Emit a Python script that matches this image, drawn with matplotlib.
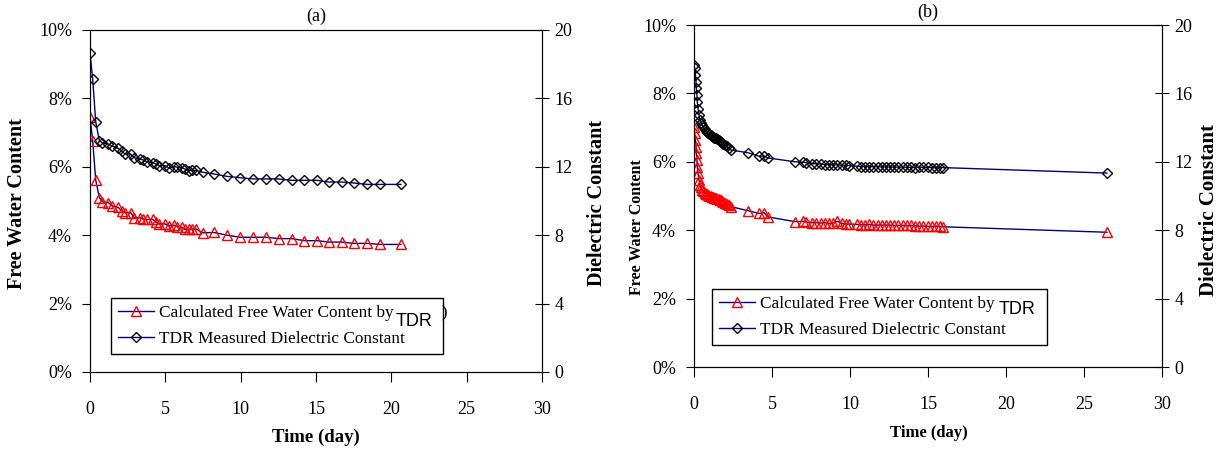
import numpy as np
import matplotlib.pyplot as plt
from matplotlib.lines import Line2D
from matplotlib.ticker import FuncFormatter

plt.rcParams['font.family'] = ['Liberation Serif', 'DejaVu Serif']

# panel (a)
days_a = [0, 0.18, 0.38, 0.62, 0.82, 1.22, 1.46, 1.88, 2.10, 2.32, 2.70, 2.94, 3.32, 3.54,
          3.76, 4.16, 4.38, 4.60, 4.98, 5.24, 5.60, 5.80, 6.08, 6.31, 6.59, 6.75, 7.04, 7.48,
          8.23, 9.09, 9.96, 10.82, 11.68, 12.52, 13.38, 14.23, 15.07, 15.84, 16.70, 17.54,
          18.41, 19.27, 20.64]
water_a = [7.47, 6.75, 5.61, 5.10, 4.98, 4.95, 4.86, 4.81, 4.72, 4.66, 4.66, 4.51, 4.51, 4.47,
           4.46, 4.46, 4.38, 4.33, 4.33, 4.27, 4.29, 4.25, 4.23, 4.17, 4.18, 4.18, 4.18, 4.07,
           4.08, 4.00, 3.94, 3.94, 3.94, 3.90, 3.90, 3.84, 3.84, 3.80, 3.80, 3.76, 3.76, 3.73,
           3.73]
diel_a = [18.67, 17.11, 14.62, 13.53, 13.41, 13.33, 13.22, 13.08, 12.92, 12.75, 12.75, 12.53,
          12.44, 12.40, 12.30, 12.24, 12.16, 12.07, 12.07, 11.93, 12.01, 11.97, 11.95, 11.87,
          11.77, 11.79, 11.79, 11.68, 11.58, 11.44, 11.36, 11.29, 11.29, 11.29, 11.21, 11.21,
          11.21, 11.11, 11.11, 11.05, 10.97, 10.97, 10.97]

# panel (b)
days_b = [0, 0.04, 0.09, 0.13, 0.15, 0.19, 0.21, 0.26, 0.32, 0.38, 0.45, 0.51, 0.58, 0.68,
          0.75, 0.82, 0.90, 0.98, 1.06, 1.15, 1.22, 1.30, 1.36, 1.43, 1.50, 1.58, 1.64, 1.71,
          1.78, 1.85, 1.97, 2.10, 2.22, 2.35, 3.46, 4.15, 4.50, 4.72,
          6.47, 6.97, 7.18, 7.54, 7.82, 8.12, 8.40, 8.67, 8.93, 9.19, 9.47, 9.74, 9.96, 10.43,
          10.68, 10.96, 11.24, 11.50, 11.78, 12.03, 12.31, 12.56, 12.84, 13.10, 13.38, 13.63,
          13.89, 14.17, 14.44, 14.70, 14.98, 15.24, 15.51, 15.77, 15.98, 26.47]
water_b = [7.01, 6.83, 6.64, 6.44, 6.25, 6.05, 5.86, 5.66, 5.47, 5.32, 5.25, 5.19, 5.14, 5.10,
           5.07, 5.05, 5.03, 5.01, 5.00, 4.98, 4.97, 4.95, 4.94, 4.93, 4.92, 4.90, 4.89, 4.88,
           4.85, 4.83, 4.80, 4.77, 4.74, 4.69, 4.57, 4.49, 4.51, 4.39,
           4.25, 4.26, 4.24, 4.22, 4.22, 4.21, 4.22, 4.20, 4.21, 4.26, 4.20, 4.18, 4.18, 4.17,
           4.16, 4.16, 4.17, 4.15, 4.15, 4.15, 4.15, 4.15, 4.14, 4.14, 4.14, 4.14, 4.14, 4.13,
           4.12, 4.12, 4.11, 4.11, 4.12, 4.11, 4.10, 3.94]
diel_b = [17.66, 17.47, 17.08, 16.69, 16.30, 15.90, 15.50, 15.10, 14.74, 14.44, 14.28, 14.15,
          14.02, 13.90, 13.82, 13.74, 13.66, 13.60, 13.55, 13.50, 13.46, 13.42, 13.40, 13.37,
          13.32, 13.27, 13.23, 13.18, 13.12, 13.07, 12.98, 12.90, 12.79, 12.69, 12.53, 12.33,
          12.33, 12.23,
          12.00, 11.98, 11.95, 11.90, 11.88, 11.86, 11.84, 11.83, 11.82, 11.82, 11.80, 11.80,
          11.78, 11.74, 11.72, 11.72, 11.72, 11.71, 11.71, 11.70, 11.70, 11.70, 11.69, 11.69,
          11.69, 11.68, 11.68, 11.66, 11.70, 11.67, 11.68, 11.66, 11.66, 11.66, 11.66, 11.34]

navy = '#000080'
W, H = 1224, 450
fig = plt.figure(figsize=(W / 100, H / 100), dpi=100)


def px(x, y):
    # pixel position (from top-left) -> figure fraction
    return x / W, 1 - y / H


def panel(box, days, water, diel, title, title_y, ylab, ylab_size, y2lab, y2lab_size,
          xlab, xlab_size, legend_box, tdr_xy, extra):
    l, t, r, b = box
    ax = fig.add_axes([l / W, 1 - b / H, (r - l) / W, (b - t) / H])
    ax2 = ax.twinx()
    ax.plot(days, water, color=navy, lw=1, marker='^', ms=6.5, mfc='none', mec='red', mew=1)
    ax2.plot(days, diel, color=navy, lw=1, marker='D', ms=5.5, mfc='none', mec='black', mew=1)
    ax.set_xlim(0, 30)
    ax.set_ylim(0, 10)
    ax2.set_ylim(0, 20)
    ax.set_xticks(range(0, 31, 5))
    ax.set_yticks(range(0, 11, 2))
    ax2.set_yticks(range(0, 21, 4))
    ax.yaxis.set_major_formatter(FuncFormatter(lambda v, p: '%d%%' % v))
    ax.tick_params(axis='y', direction='out', length=6, labelsize=13, pad=7)
    ax.tick_params(axis='x', direction='out', length=7, labelsize=13, pad=14)
    ax2.tick_params(axis='y', direction='inout', length=10, labelsize=13, pad=4)
    fig.text(*px((l + r) / 2, title_y), title, fontsize=13, ha='center', va='center')
    fig.text(*px(*ylab), 'Free Water Content', fontsize=ylab_size, fontweight='bold',
             rotation=90, ha='center', va='center')
    fig.text(*px(*y2lab), 'Dielectric Constant', fontsize=y2lab_size, fontweight='bold',
             rotation=90, ha='center', va='center')
    fig.text(*px(*xlab), 'Time (day)', fontsize=xlab_size, fontweight='bold',
             ha='center', va='center')
    handles = [Line2D([], [], color=navy, lw=1, marker='^', ms=6.5, mfc='none', mec='red'),
               Line2D([], [], color=navy, lw=1, marker='D', ms=5.5, mfc='none', mec='black')]
    labels = ['Calculated Free Water Content by' + extra, 'TDR Measured Dielectric Constant']
    ll, lt, lr, lb = legend_box
    leg = ax2.legend(handles, labels, loc='center left',
                     bbox_to_anchor=(ll / W, 1 - lb / H, (lr - ll) / W, (lb - lt) / H),
                     bbox_transform=fig.transFigure, mode='expand', fontsize=12.4,
                     frameon=True, fancybox=False, edgecolor='black', framealpha=1,
                     handlelength=2.1, handletextpad=0.3, borderpad=0.4, labelspacing=0.6,
                     borderaxespad=0)
    leg.get_frame().set_linewidth(1)
    fig.text(*px(*tdr_xy), 'TDR', family=['Liberation Sans', 'DejaVu Sans'],
             fontsize=13, ha='left', va='center', zorder=10,
             bbox=dict(facecolor='white', edgecolor='none', pad=0.5))
    return ax, ax2


panel((90, 30, 542, 372), days_a, water_a, diel_a, '(a)', 16,
      (17, 204), 14.5, (597, 203), 14.5, (316, 437), 13.5,
      (111, 296, 443, 356), (396, 322), '           )')
panel((694, 25, 1162, 367), days_b, water_b, diel_b, '(b)', 12,
      (637, 227), 11.5, (1209, 210), 15, (929, 433), 12,
      (712, 281, 1047, 353), (999, 309), '')

fig.savefig('out.png', dpi=100)
